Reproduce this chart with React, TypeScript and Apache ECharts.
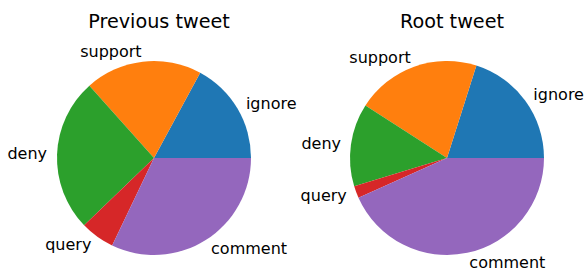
import React, { useEffect, useRef } from "react";
import * as echarts from "echarts";

const categories = ["ignore", "support", "deny", "query", "comment"];
const previousValues = [17.1, 19.5, 25.6, 5.7, 32.1];
const rootValues = [20.1, 20.8, 13.8, 2.0, 43.3];
const titles = ["Previous tweet", "Root tweet"];
const colors = ["#1f77b4", "#ff7f0e", "#2ca02c", "#d62728", "#9467bd"];

const FONT = "DejaVu Sans";

export default function App() {
  const ref = useRef<HTMLDivElement>(null);
  useEffect(() => {
    if (!ref.current) return;
    const chart = echarts.init(ref.current, undefined, { renderer: "svg" });
    const centers = [154, 447];
    const makeSeries = (values: number[], cx: number) => ({
      type: "pie",
      center: [cx, 158],
      radius: 97,
      startAngle: 0,
      clockwise: false,
      avoidLabelOverlap: false,
      minAngle: 0,
      itemStyle: { borderWidth: 0 },
      label: {
        show: true,
        position: "outside",
        color: "#000",
        fontFamily: FONT,
        fontSize: 16,
        lineHeight: 15,
        distanceToLabelLine: 0,
      },
      labelLine: { show: false, length: 10, length2: 0 },
      emphasis: { disabled: true },
      data: categories.map((name, i) => ({
        name,
        value: values[i],
        itemStyle: { color: colors[i] },
      })),
    });
    chart.setOption({
      animation: false,
      backgroundColor: "#fff",
      title: titles.map((t, i) => ({
        text: t,
        left: centers[i],
        top: 7,
        textAlign: "center",
        textStyle: {
          fontFamily: FONT,
          fontSize: 19.2,
          fontWeight: "normal",
          color: "#000",
        },
      })),
      series: [
        makeSeries(previousValues, centers[0]),
        makeSeries(rootValues, centers[1]),
      ],
    });
    return () => chart.dispose();
  }, []);
  return (
    <div
      ref={ref}
      style={{ position: "fixed", left: 0, top: 0, width: 585, height: 270 }}
    />
  );
}
